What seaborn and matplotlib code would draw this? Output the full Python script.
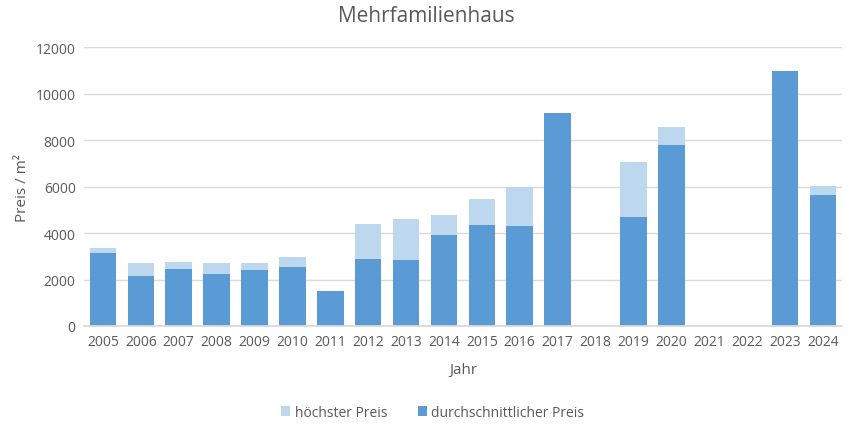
import numpy as np
import pandas as pd
import matplotlib
matplotlib.use("Agg")
import matplotlib.pyplot as plt
import seaborn as sns

years = ["2005", "2006", "2007", "2008", "2009", "2010", "2011", "2012", "2013", "2014",
         "2015", "2016", "2017", "2018", "2019", "2020", "2021", "2022", "2023", "2024"]
hoechster = [3350, 2720, 2750, 2720, 2720, 2980, 1500, 4400, 4610, 4780,
             5470, 5990, 9160, np.nan, 7050, 8560, np.nan, np.nan, 10970, 6020]
durchschnitt = [3150, 2160, 2460, 2250, 2420, 2550, 1500, 2890, 2850, 3920,
                4350, 4310, 9160, np.nan, 4700, 7780, np.nan, np.nan, 10970, 5640]

df = pd.DataFrame({"Jahr": years, "hoechster": hoechster, "durchschnitt": durchschnitt})

sns.set_theme(style="white")
plt.rcParams["font.family"] = ["Open Sans", "DejaVu Sans"]
txt = "#595959"

fig = plt.figure(figsize=(8.52, 4.31), dpi=100)
ax = fig.add_axes([0.0986, 0.2413, 0.8894, 0.6473])

sns.barplot(data=df, x="Jahr", y="hoechster", order=years, color="#BDD7EE",
            saturation=1, width=0.7, linewidth=0, ax=ax, label="höchster Preis")
sns.barplot(data=df, x="Jahr", y="durchschnitt", order=years, color="#5B9BD5",
            saturation=1, width=0.7, linewidth=0, ax=ax, label="durchschnittlicher Preis")

ax.set_ylim(0, 12000)
ax.set_xlim(-0.5, len(years) - 0.5)
ax.set_yticks(range(0, 12001, 2000))
ax.yaxis.grid(True, color="#D9D9D9", linewidth=1)
ax.set_axisbelow(True)
for s in ["top", "right", "left"]:
    ax.spines[s].set_visible(False)
ax.spines["bottom"].set_color("#D9D9D9")
ax.tick_params(axis="both", length=0, labelsize=10, colors=txt, pad=6)
ax.set_xlabel("Jahr", fontsize=11, color=txt, labelpad=9)
ax.set_ylabel("Preis / m²", fontsize=11, color=txt, labelpad=4)
fig.suptitle("Mehrfamilienhaus", fontsize=15, color=txt, y=0.985)

ax.legend(loc="center", bbox_to_anchor=(0.46, -0.31), ncol=2, frameon=False,
          fontsize=10, labelcolor=txt, handlelength=0.7, handleheight=0.7,
          handletextpad=0.3, columnspacing=2.2)

fig.savefig("out.png", dpi=100)
